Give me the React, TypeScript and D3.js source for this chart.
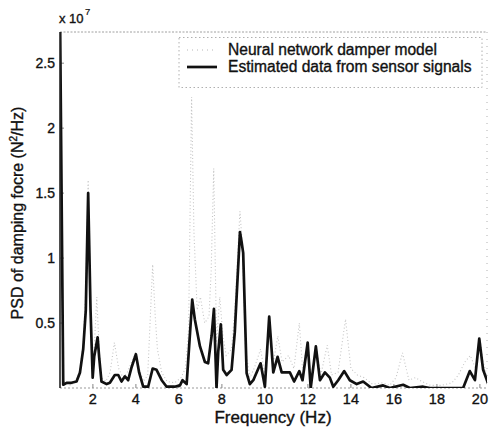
import React from "react";
import * as d3 from "d3";

// Frequency (Hz) and PSD (x 1e7 N^2/Hz) pairs for each series
const modelPsd: [number, number][] = [
  [0.47, 2.9], [0.6, 0.06], [0.8, 0.03], [1.0, 0.02], [1.2, 0.06], [1.4, 0.14],
  [1.55, 0.35], [1.67, 0.75], [1.78, 1.6], [1.88, 0.7], [1.98, 0.1], [2.06, 0.3],
  [2.18, 0.7], [2.29, 0.3], [2.4, 0.08], [2.6, 0.05], [2.8, 0.12], [3.0, 0.35],
  [3.2, 0.15], [3.4, 0.08], [3.6, 0.12], [3.8, 0.2], [4.0, 0.28], [4.15, 0.15],
  [4.35, 0.05], [4.55, 0.1], [4.78, 0.95], [4.9, 0.55], [5.0, 0.3], [5.2, 0.12],
  [5.45, 0.05], [5.8, 0.04], [6.1, 0.08], [6.3, 0.15], [6.45, 0.45], [6.59, 2.24],
  [6.7, 1.2], [6.85, 0.6], [7.0, 0.7], [7.2, 0.5], [7.4, 0.55], [7.5, 0.9],
  [7.62, 1.69], [7.75, 0.35], [7.9, 0.7], [8.05, 0.4], [8.2, 0.25], [8.45, 0.3],
  [8.6, 0.6], [8.84, 1.36], [8.95, 1.1], [9.1, 0.3], [9.3, 0.08], [9.5, 0.15],
  [9.8, 0.3], [10.0, 0.1], [10.2, 0.45], [10.4, 0.2], [10.6, 0.4], [10.8, 0.2],
  [11.1, 0.25], [11.35, 0.15], [11.6, 0.5], [11.75, 0.15], [12.0, 0.35], [12.15, 0.05],
  [12.4, 0.3], [12.6, 0.1], [12.9, 0.33], [13.1, 0.1], [13.4, 0.12], [13.75, 0.53],
  [14.0, 0.15], [14.3, 0.1], [14.6, 0.08], [15.0, 0.03], [15.5, 0.04], [15.8, 0.02],
  [16.1, 0.08], [16.4, 0.27], [16.7, 0.06], [17.0, 0.08], [17.3, 0.05], [17.7, 0.02],
  [18.2, 0.02], [18.7, 0.04], [19.0, 0.1], [19.3, 0.2], [19.55, 0.25], [19.8, 0.15],
  [20.0, 0.38], [20.15, 0.2], [20.33, 0.1],
];

const sensorPsd: [number, number][] = [
  [0.47, 2.9], [0.62, 0.025], [0.78, 0.04], [1.0, 0.04], [1.24, 0.05], [1.4, 0.12],
  [1.55, 0.3], [1.67, 0.6], [1.78, 1.5], [1.89, 0.6], [1.99, 0.08], [2.06, 0.24],
  [2.22, 0.39], [2.29, 0.24], [2.4, 0.05], [2.64, 0.03], [2.79, 0.04], [3.02, 0.1],
  [3.18, 0.1], [3.33, 0.05], [3.49, 0.09], [3.64, 0.06], [3.8, 0.16], [4.0, 0.26],
  [4.15, 0.12], [4.34, 0.01], [4.57, 0.01], [4.78, 0.15], [4.96, 0.14], [5.2, 0.06],
  [5.43, 0.01], [5.8, 0.01], [6.05, 0.02], [6.17, 0.06], [6.36, 0.03], [6.62, 0.68],
  [6.74, 0.53], [6.98, 0.32], [7.21, 0.2], [7.36, 0.19], [7.52, 0.4], [7.63, 0.61],
  [7.75, 0.0], [7.83, 0.28], [7.95, 0.49], [8.06, 0.14], [8.22, 0.1], [8.45, 0.14],
  [8.6, 0.43], [8.84, 1.2], [8.92, 1.12], [8.99, 1.04], [9.15, 0.115], [9.3, 0.03],
  [9.46, 0.06], [9.8, 0.19], [10.0, 0.01], [10.2, 0.55], [10.39, 0.12], [10.59, 0.24],
  [10.78, 0.12], [11.16, 0.12], [11.36, 0.05], [11.6, 0.13], [11.75, 0.06], [11.99, 0.35],
  [12.13, 0.0], [12.37, 0.32], [12.56, 0.06], [12.79, 0.12], [13.02, 0.08], [13.18, 0.01],
  [13.41, 0.06], [13.69, 0.13], [13.95, 0.06], [14.27, 0.03], [14.57, 0.05], [14.96, 0.0],
  [15.5, 0.02], [15.81, 0.0], [16.43, 0.025], [16.74, 0.0], [17.36, 0.01], [17.67, 0.0],
  [19.22, 0.0], [19.53, 0.13], [19.77, 0.06], [19.97, 0.38], [20.15, 0.14], [20.39, 0.03],
];

const xTicks = [2, 4, 6, 8, 10, 12, 14, 16, 18, 20];
const yTicks = [0.5, 1, 1.5, 2, 2.5];
const legendLabels = ["Neural network damper model", "Estimated data from sensor signals"];

const W = 489;
const H = 428;
const left = 60;
const right = 487;
const top = 32;
const bottom = 388;
const FONT = "'Liberation Sans', Arial, Helvetica, sans-serif";
const INK = "#111";

export default function App() {
  const x = d3.scaleLinear().domain([0.47, 20.33]).range([left, right]);
  const y = d3.scaleLinear().domain([0, 2.74]).range([bottom, top]);
  const line = d3
    .line<[number, number]>()
    .x((d) => x(d[0]))
    .y((d) => y(d[1]));

  // slightly heavier glyphs for all labels
  const textStyle = { fill: INK, stroke: INK, strokeWidth: 0.35 };

  return (
    <svg
      width={W}
      height={H}
      style={{ position: "absolute", left: 0, top: 0, background: "#fff" }}
      fontFamily={FONT}
    >
      <defs>
        <clipPath id="plot-area">
          <rect x={left} y={top} width={right - left} height={bottom - top} />
        </clipPath>
      </defs>

      {/* axes box: top, right and bottom are faint, left is solid */}
      <line x1={left} x2={right} y1={top} y2={top} stroke="#a0a0a0" strokeWidth={1} strokeDasharray="2 1.5" />
      <line x1={right} x2={right} y1={top} y2={bottom} stroke="#b0b0b0" strokeWidth={1} strokeDasharray="1 6" />
      <line x1={left} x2={right} y1={bottom} y2={bottom} stroke="#999" strokeWidth={1} strokeDasharray="2 2" />

      {/* ticks */}
      {xTicks.map((t) => (
        <g key={`xt${t}`}>
          <line x1={x(t)} x2={x(t)} y1={bottom} y2={bottom - 4} stroke="#888" strokeWidth={1} />
          <text x={x(t)} y={404} textAnchor="middle" fontSize={14.5} {...textStyle}>
            {t}
          </text>
        </g>
      ))}
      {yTicks.map((t) => (
        <g key={`yt${t}`}>
          <line x1={left} x2={left + 4} y1={y(t)} y2={y(t)} stroke="#888" strokeWidth={1} />
          <text x={55} y={y(t) + 5} textAnchor="end" fontSize={14} {...textStyle}>
            {t}
          </text>
        </g>
      ))}

      {/* exponent */}
      <text x={59} y={23} fontSize={13} {...textStyle}>
        x 10
      </text>
      <text x={85} y={15} fontSize={9.5} {...textStyle} strokeWidth={0.2}>
        7
      </text>

      <g clipPath="url(#plot-area)">
        <path
          d={line(modelPsd) ?? ""}
          fill="none"
          stroke="#c4c4c4"
          strokeWidth={1.1}
          strokeDasharray="1 2.4"
        />
        <path
          d={line(sensorPsd) ?? ""}
          fill="none"
          stroke={INK}
          strokeWidth={2.7}
          strokeLinejoin="round"
        />
      </g>

      {/* left axis */}
      <line x1={left} x2={left} y1={top} y2={bottom} stroke="#222" strokeWidth={1.6} />

      {/* legend */}
      <rect
        x={179}
        y={37.5}
        width={303}
        height={50}
        fill="#fff"
        stroke="#b0b0b0"
        strokeWidth={1}
        strokeDasharray="1.5 2.5"
      />
      <line x1={187} x2={217} y1={50} y2={50} stroke="#b8b8b8" strokeWidth={1.1} strokeDasharray="1 4" />
      <line x1={187} x2={217} y1={67} y2={67} stroke={INK} strokeWidth={2.7} />
      <text x={228} y={55} fontSize={15.6} {...textStyle}>
        {legendLabels[0]}
      </text>
      <text x={228} y={72} fontSize={15.6} {...textStyle}>
        {legendLabels[1]}
      </text>

      {/* axis titles */}
      <text x={273} y={423} textAnchor="middle" fontSize={17} {...textStyle}>
        Frequency (Hz)
      </text>
      <text
        transform="translate(23,213) rotate(-90)"
        textAnchor="middle"
        fontSize={16}
        {...textStyle}
      >
        PSD of damping focre (N
        <tspan fontSize={10} dy={-6}>
          2
        </tspan>
        <tspan dy={6}>/Hz)</tspan>
      </text>
    </svg>
  );
}
